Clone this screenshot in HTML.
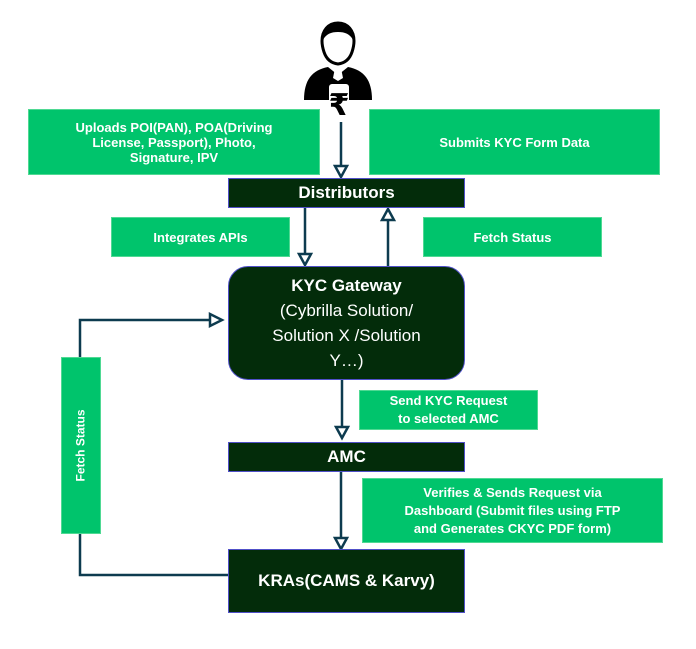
<!DOCTYPE html>
<html><head><style>
body{margin:0;width:696px;height:649px;background:#fff;position:relative;overflow:hidden;font-family:"Liberation Sans Narrow","Liberation Sans",sans-serif;font-weight:bold;color:#fff}
.g{position:absolute;background:#00c46c;display:flex;align-items:center;justify-content:center;text-align:center;font-size:13px;line-height:15px;box-shadow:0 0 0 1px #4fd993}
.d{position:absolute;background:#032c0a;border:1px solid #5050c8;box-sizing:border-box;display:flex;align-items:center;justify-content:center;text-align:center}
</style></head><body>
<svg width="696" height="649" style="position:absolute;left:0;top:0">
<g fill="#000">
<path d="M338 23c-10 0-16 8-16 18 0 4 1 8 2 11 2 6 6 11 14 12 8-1 12-6 14-12 1-3 2-7 2-11 0-10-6-18-16-18z" fill="#fff" stroke="#000" stroke-width="3"/>
<path d="M323 40c0-12 6-18 15-18s15 6 15 18c-3-6-8-8-15-8s-12 2-15 8z"/>
<path d="M304 100c0-20 8-30 24-33l10 8 10-8c16 3 24 13 24 33z"/>
<path d="M335 68l3 3 3-3 2 10-5 3-5-3z" fill="#fff"/>
<rect x="329" y="84" width="20" height="22" rx="3" fill="#fff"/>
<text x="339" y="115" font-size="30" text-anchor="middle" fill="#000" font-family="DejaVu Sans">₹</text>
</g>
<g stroke="#0d3b4f" stroke-width="2.5" fill="none">
<line x1="341" y1="122" x2="341" y2="166"/>
<line x1="305" y1="208" x2="305" y2="254"/>
<line x1="388" y1="266" x2="388" y2="220"/>
<line x1="342" y1="380" x2="342" y2="427"/>
<line x1="341" y1="472" x2="341" y2="538"/>
<polyline points="228,575 80,575 80,320 210,320"/>
</g>
<g fill="#fff" stroke="#0d3b4f" stroke-width="2.5">
<polygon points="335,166 347,166 341,177"/>
<polygon points="299,254 311,254 305,265"/>
<polygon points="382,220 394,220 388,209"/>
<polygon points="336,427 348,427 342,438"/>
<polygon points="335,538 347,538 341,549"/>
<polygon points="210,314 210,326 222,320"/>
</g>
</svg>
<div class="g" style="left:29px;top:110px;width:290px;height:64px">Uploads POI(PAN), POA(Driving<br>License, Passport), Photo,<br>Signature, IPV</div>
<div class="g" style="left:370px;top:110px;width:289px;height:64px">Submits KYC Form Data</div>
<div class="d" style="left:228px;top:178px;width:237px;height:30px;font-size:17px">Distributors</div>
<div class="g" style="left:112px;top:218px;width:177px;height:38px">Integrates APIs</div>
<div class="g" style="left:424px;top:218px;width:177px;height:38px">Fetch Status</div>
<div class="d" style="left:228px;top:266px;width:237px;height:114px;border-radius:20px;font-size:17px;line-height:25px;font-weight:normal;font-family:'Liberation Sans',sans-serif"><div><b>KYC Gateway</b><br>(Cybrilla Solution/<br>Solution X /Solution<br>Y…)</div></div>
<div class="g" style="left:62px;top:358px;width:38px;height:175px"><div style="transform:rotate(-90deg);white-space:nowrap;font-family:'Liberation Sans',sans-serif;font-size:12px">Fetch Status</div></div>
<div class="g" style="left:360px;top:391px;width:177px;height:38px;line-height:18px">Send KYC Request<br>to selected AMC</div>
<div class="d" style="left:228px;top:442px;width:237px;height:30px;font-size:17px">AMC</div>
<div class="g" style="left:363px;top:479px;width:299px;height:63px;line-height:18px">Verifies &amp; Sends Request via<br>Dashboard (Submit files using FTP<br>and Generates CKYC PDF form)</div>
<div class="d" style="left:228px;top:549px;width:237px;height:64px;font-size:17px">KRAs(CAMS &amp; Karvy)</div>
</body></html>
